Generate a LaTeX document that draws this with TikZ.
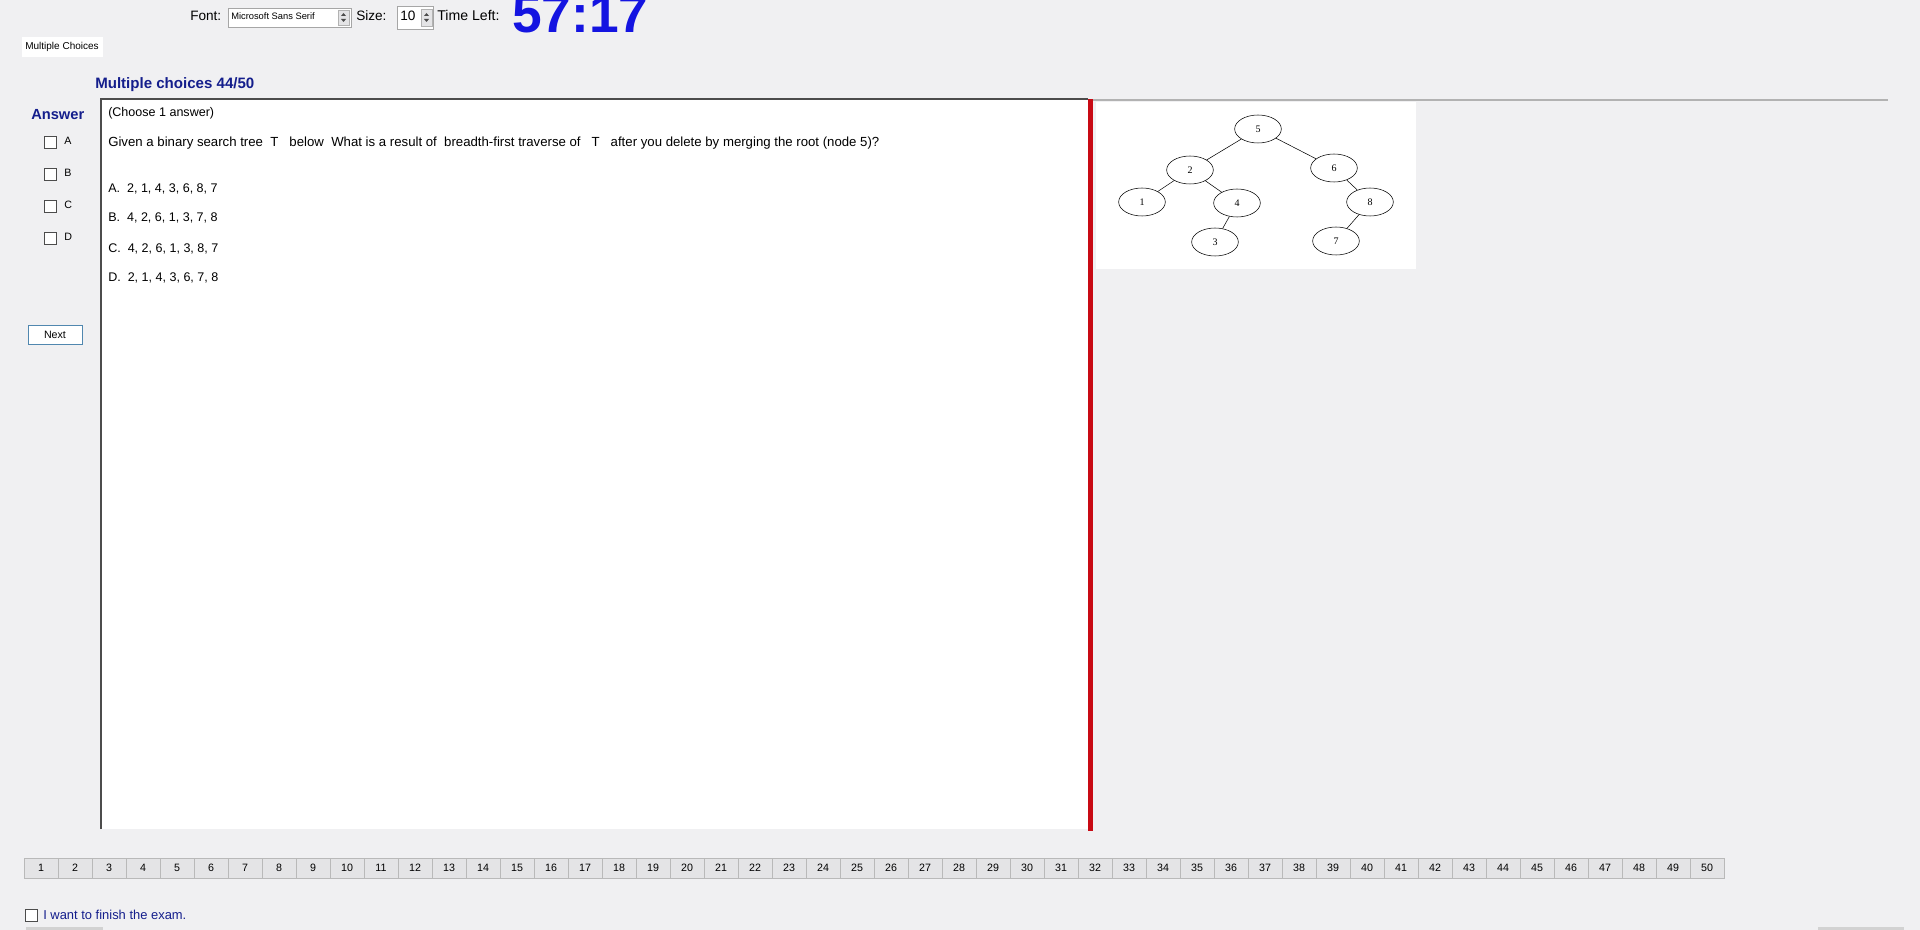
\documentclass[tikz,border=0pt]{standalone}
\usepackage{fontspec}
\setmainfont{Liberation Sans}
\newfontfamily\treefont{Liberation Serif}
\usetikzlibrary{shapes.geometric}
\definecolor{winbg}{RGB}{240,240,242}
\definecolor{navy}{RGB}{20,30,140}
\definecolor{timeblue}{RGB}{20,20,225}
\definecolor{btngray}{RGB}{228,228,230}
\definecolor{redbar}{RGB}{200,10,20}
\definecolor{nextblue}{RGB}{80,135,175}
\begin{document}
\begin{tikzpicture}[x=0.75pt, y=-0.75pt,
    ui/.style={font=\fontsize{9.4}{10}\selectfont, inner sep=0pt, anchor=base west},
    top/.style={font=\fontsize{10.2}{11}\selectfont, inner sep=0pt, anchor=base west},
    head/.style={font=\fontsize{11}{12}\selectfont\bfseries, text=navy, inner sep=0pt, anchor=base west},
    chk/.style={draw=gray!60!black, fill=white, minimum size=9pt, inner sep=0pt},
    tnode/.style={ellipse, draw, minimum width=35pt, minimum height=21pt, inner sep=0pt, font=\treefont\fontsize{7.5}{8}\selectfont},
    numbtn/.style={draw=gray!55, fill=btngray, minimum width=25.5pt, minimum height=15pt, inner sep=0pt, font=\fontsize{8}{9}\selectfont}
]
    % Fenster
    \fill[winbg] (0,0) rectangle (1920,930);
    \useasboundingbox (0,0) rectangle (1920,930);

    % Kopfzeile
    \node[top] (fontlbl) at (190,21) {Font:};
    \draw[gray!70, fill=white] (228,8) rectangle (351,27);
    \node[ui, font=\fontsize{7}{8}\selectfont] (fontname) at (231,20) {Microsoft Sans Serif};
    \draw[gray!60, fill=btngray] (338,10) rectangle (349,25);
    \fill[black!70] (341,16) -- (346,16) -- (343.5,13) -- cycle;
    \fill[black!70] (341,19) -- (346,19) -- (343.5,22) -- cycle;
    \node[top] (sizelbl) at (356,21) {Size:};
    \draw[gray!70, fill=white] (397,6) rectangle (433,29);
    \node[top] (sizeval) at (400,21) {10};
    \draw[gray!60, fill=btngray] (421,9) rectangle (432,26);
    \fill[black!70] (424,16) -- (429,16) -- (426.5,13) -- cycle;
    \fill[black!70] (424,19) -- (429,19) -- (426.5,22) -- cycle;
    \node[top, font=\fontsize{10.6}{11}\selectfont] (timelbl) at (437,21) {Time Left:};
    \node[ui, font=\fontsize{40}{40}\selectfont\bfseries, text=timeblue] (timer) at (512,33) {57:17};

    % Reiter
    \fill[white] (22,37) rectangle (103,57);
    \node[font=\fontsize{7.5}{8}\selectfont, inner sep=0pt] (tab) at (62,47) {Multiple Choices};

    % Antworten links
    \node[head, font=\fontsize{11.3}{12}\selectfont\bfseries] (title) at (95,89) {Multiple choices 44/50};
    \node[head] (answer) at (31,120) {Answer};
    \foreach \l/\y in {A/142, B/174, C/206, D/238} {
        \node[chk] (chk\l) at (50,\y) {};
        \node[font=\fontsize{8}{9}\selectfont, inner sep=0pt, anchor=west] (lbl\l) at (64,\y-1) {\l};
    }
    \node[draw=nextblue, fill=white, minimum width=40.5pt, minimum height=14.5pt, inner sep=0pt, font=\fontsize{8}{9}\selectfont] (next) at (55,334.5) {Next};

    % Fragefeld
    \fill[white] (101,99) rectangle (1088,829);
    \draw[gray!60!black, line width=1.2pt] (101,829) -- (101,99) -- (1088,99);
    \draw[gray!60, line width=1.5pt] (1093,100) -- (1888,100);
    \fill[redbar] (1088,99) rectangle (1093,831);
    \node[ui] (choose) at (108,117) {(Choose 1 answer)};
    \node[ui, font=\fontsize{9.9}{11}\selectfont] (question) at (108,147) {Given a binary search tree~~T~~~below~~What is a result of~~breadth-first traverse of~~~T~~~after you delete by merging the root (node 5)?};
    \node[ui] (optA) at (108,193) {A.~~2, 1, 4, 3, 6, 8, 7};
    \node[ui] (optB) at (108,222) {B.~~4, 2, 6, 1, 3, 7, 8};
    \node[ui] (optC) at (108,253) {C.~~4, 2, 6, 1, 3, 8, 7};
    \node[ui] (optD) at (108,282) {D.~~2, 1, 4, 3, 6, 7, 8};

    % Baum
    \fill[white] (1096,102) rectangle (1416,269);
    \node[tnode] (n5) at (1258,129) {5};
    \node[tnode] (n2) at (1190,170) {2};
    \node[tnode] (n6) at (1334,168) {6};
    \node[tnode] (n1) at (1142,202) {1};
    \node[tnode] (n4) at (1237,203) {4};
    \node[tnode] (n8) at (1370,202) {8};
    \node[tnode] (n3) at (1215,242) {3};
    \node[tnode] (n7) at (1336,241) {7};
    \draw (n5) -- (n2);
    \draw (n5) -- (n6);
    \draw (n2) -- (n1);
    \draw (n2) -- (n4);
    \draw (n4) -- (n3);
    \draw (n6) -- (n8);
    \draw (n8) -- (n7);

    % Fragenleiste
    \foreach \i in {1,...,50}
        \node[numbtn] (q\i) at ({24+34*(\i-0.5)},868) {\i};

    % Abschluss
    \node[chk] (finish) at (31,915) {};
    \node[ui, font=\fontsize{9.7}{10}\selectfont, text=navy] (finishlbl) at (43,919) {I want to finish the exam.};
    \fill[gray!35] (26,927) rectangle (103,930);
    \fill[gray!35] (1818,927) rectangle (1904,930);
\end{tikzpicture}
\end{document}
